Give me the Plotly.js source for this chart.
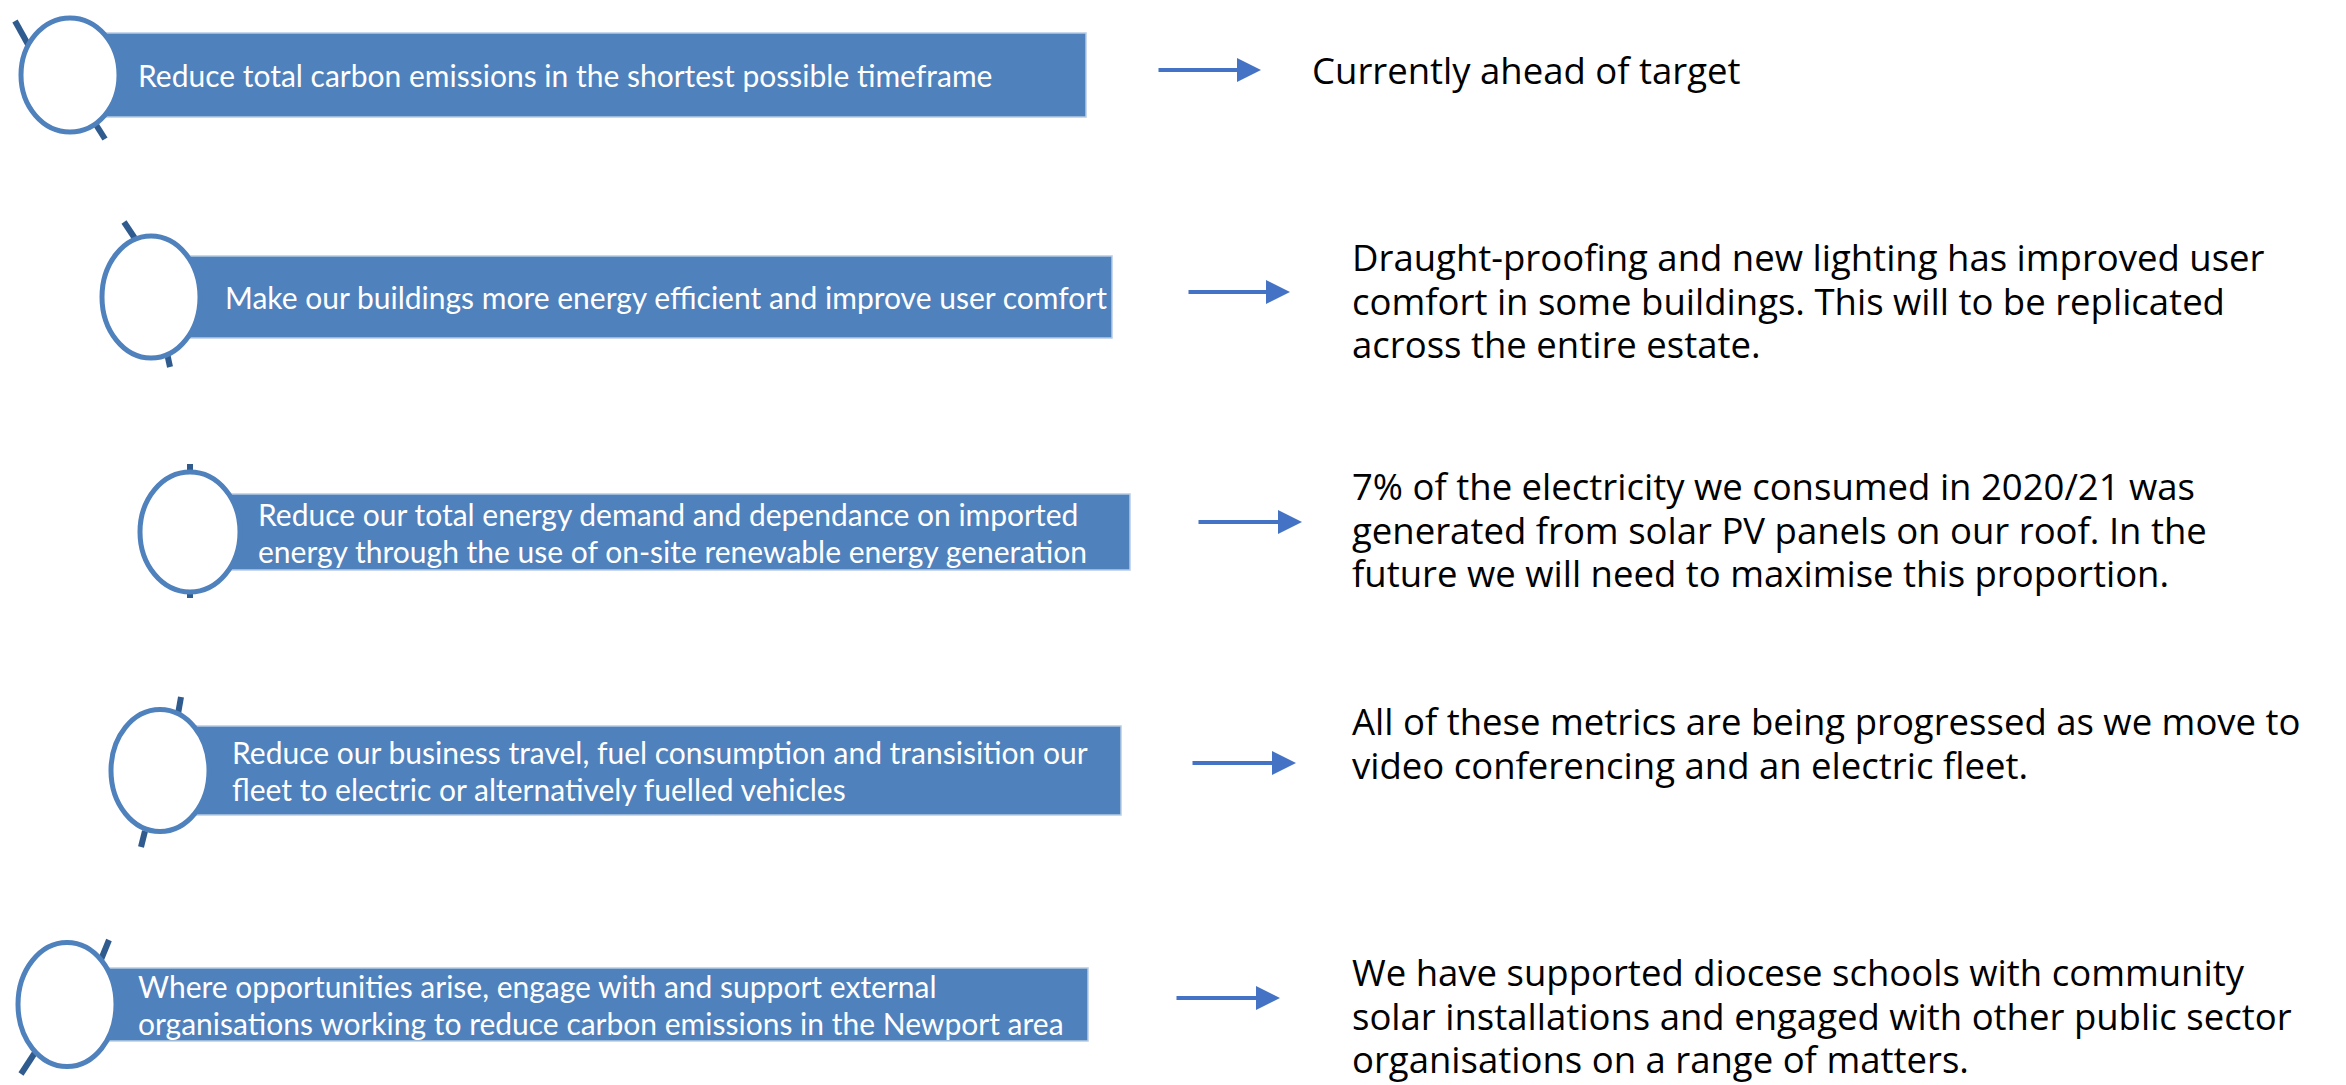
<!DOCTYPE html>
<html><head><meta charset="utf-8">
<script src="https://cdn.plot.ly/plotly-3.0.1.min.js"></script>
<style>html,body{margin:0;padding:0;background:#fff;}#chart{width:2346px;height:1085px;}</style>
</head><body><div id="chart"></div>
<script>
// ---- content ----
const objectives = [
  ["Reduce total carbon emissions in the shortest possible timeframe"],
  ["Make our buildings more energy efficient and improve user comfort"],
  ["Reduce our total energy demand and dependance on imported", "energy through the use of on-site renewable energy generation"],
  ["Reduce our business travel, fuel consumption and transisition our", "fleet to electric or alternatively fuelled vehicles"],
  ["Where opportunities arise, engage with and support external", "organisations working to reduce carbon emissions in the Newport area"]
];
const progress = [
  ["Currently ahead of target"],
  ["Draught-proofing and new lighting has improved user", "comfort in some buildings. This will to be replicated", "across the entire estate."],
  ["7% of the electricity we consumed in 2020/21 was", "generated from solar PV panels on our roof. In the", "future we will need to maximise this proportion."],
  ["All of these metrics are being progressed as we move to", "video conferencing and an electric fleet."],
  ["We have supported diocese schools with community", "solar installations and engaged with other public sector", "organisations on a range of matters."]
];

// ---- layout geometry (pixels) ----
const boxTop    = [33, 256, 494, 726, 968];
const boxBottom = [117, 338, 570, 815, 1041];
const boxRight  = [1086, 1112, 1130, 1121, 1088];
const circX     = [70, 151, 190, 160, 67];
const circRX    = [49, 49, 50, 49, 49];
const circRY    = [57, 61, 60, 61, 62];
const boxTextX  = [137, 224, 257, 231, 137];
const segTop    = [[15,21,30,48],[124,222,138,243],[190,464,190,477],[181,697,178,714],[109,940,100,962]];
const segBot    = [[93,120,105,139],[167,353,170,367],[190,588,190,598],[145,831,141,847],[36,1051,21,1074]];
const arrowX0   = [1157, 1187, 1197, 1191, 1175];
const arrowX1   = [1261, 1290, 1302, 1296, 1280];
const arrowY    = [70, 292, 522, 763, 998];
const progX     = [1311, 1351, 1351, 1351, 1351];
const progY0    = [70, 257, 486, 721, 972];
const progLH    = 43.5;   // line pitch of the right-hand text
const progFS    = 36.5;   // glyph size of the right-hand text
const boxLH     = 37;
const boxFS     = 30;

const BLUE = '#4F81BD', DARK = '#2F5B8E', ARROW = '#4472C4';
const shapes = [], annotations = [];
const block = (lines, fs) => lines.map(l => '<span style="font-size:' + fs + 'px">' + l + '</span>').join('<br>');
for (let i = 0; i < objectives.length; i++) {
  const cy = (boxTop[i] + boxBottom[i]) / 2;
  shapes.push({type:'line', xref:'x', yref:'y', x0:segTop[i][0], y0:segTop[i][1], x1:segTop[i][2], y1:segTop[i][3], line:{color:DARK, width:6}});
  shapes.push({type:'line', xref:'x', yref:'y', x0:segBot[i][0], y0:segBot[i][1], x1:segBot[i][2], y1:segBot[i][3], line:{color:DARK, width:6}});
  shapes.push({type:'rect', xref:'x', yref:'y', x0:circX[i], x1:boxRight[i], y0:boxTop[i], y1:boxBottom[i], fillcolor:BLUE, line:{color:'#B8CCE4', width:1.5}});
  shapes.push({type:'circle', xref:'x', yref:'y', x0:circX[i]-circRX[i], x1:circX[i]+circRX[i], y0:cy-circRY[i], y1:cy+circRY[i], fillcolor:'#ffffff', line:{color:BLUE, width:5}});
  annotations.push({xref:'x', yref:'y', x:boxTextX[i], y:cy, text:block(objectives[i], boxFS), showarrow:false, xanchor:'left', yanchor:'middle',
    align:'left', borderpad:0, font:{family:'Lato, sans-serif', size:boxLH/1.3, color:'#ffffff'}});
  annotations.push({xref:'x', yref:'y', x:arrowX1[i], y:arrowY[i], ax:arrowX0[i], ay:arrowY[i], axref:'x', ayref:'y', text:'', showarrow:true,
    arrowhead:2, arrowsize:1.2, arrowwidth:4, arrowcolor:ARROW});
  const n = progress[i].length;
  annotations.push({xref:'x', yref:'y', x:progX[i], y:progY0[i] + (n-1)/2*progLH, text:block(progress[i], progFS), showarrow:false, xanchor:'left', yanchor:'middle',
    align:'left', borderpad:0, font:{family:'Open Sans, sans-serif', size:progLH/1.3, color:'#000000'}});
}

const layout = {
  width:2346, height:1085, margin:{l:0,r:0,t:0,b:0},
  paper_bgcolor:'#ffffff', plot_bgcolor:'#ffffff',
  xaxis:{range:[0,2346], visible:false, fixedrange:true},
  yaxis:{range:[1085,0], visible:false, fixedrange:true},
  showlegend:false, shapes, annotations
};
Plotly.newPlot('chart', [{x:[], y:[], type:'scatter'}], layout, {staticPlot:true, displayModeBar:false});
</script></body></html>
